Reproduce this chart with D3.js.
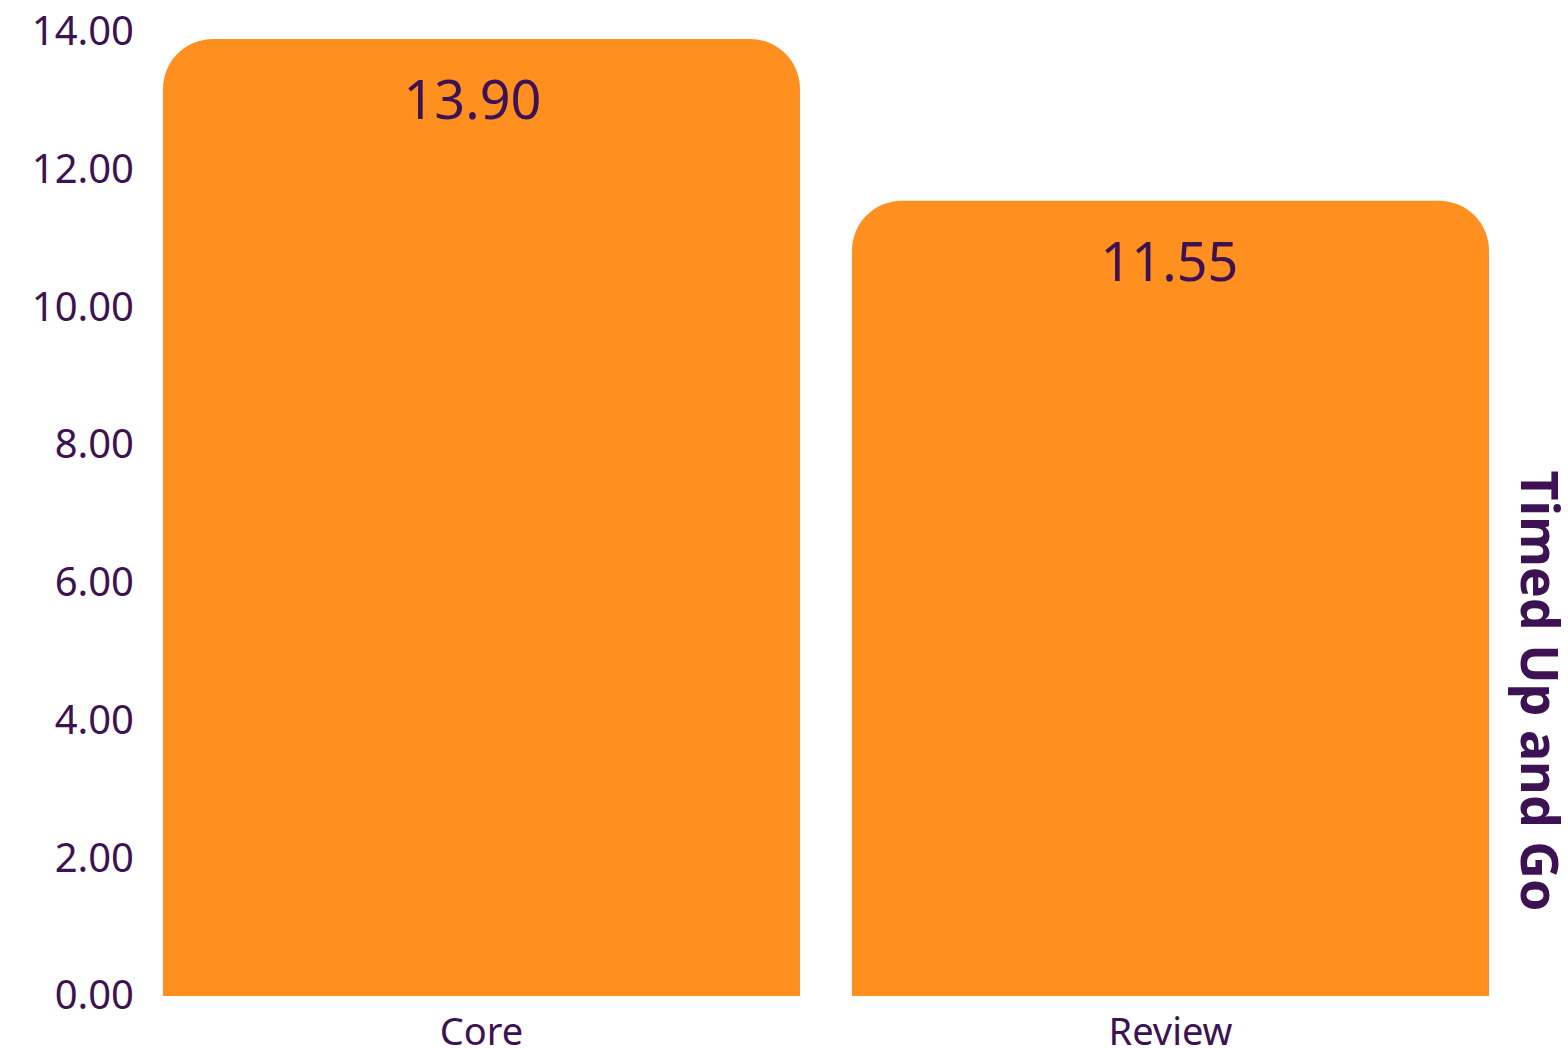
<!DOCTYPE html>
<html>
<head>
<meta charset="utf-8">
<script src="https://cdn.jsdelivr.net/npm/d3@7"></script>
<style>
  html, body { margin: 0; padding: 0; background: #ffffff; }
  svg { display: block; }
  text { font-family: "Noto Sans", "Open Sans", sans-serif; }
</style>
</head>
<body>
<svg id="chart" width="1568" height="1048"></svg>
<script>
const categories = ["Core", "Review"];
const values = [13.90, 11.55];
const yTicks = [0, 2, 4, 6, 8, 10, 12, 14];
const yTitle = "Timed Up and Go";

const W = 1568, H = 1048;
const margin = { left: 163, right: 79, top: 32, bottom: 52 };
const ink = "#3d1252";
const barColor = "#ff8f1f";

const svg = d3.select("#chart");

const x = d3.scaleBand()
  .domain(categories)
  .range([margin.left, W - margin.right])
  .paddingInner(0.0755)
  .paddingOuter(0);

const y = d3.scaleLinear()
  .domain([0, 14])
  .range([H - margin.bottom, margin.top]);

function topRounded(x0, y0, w, h, r) {
  r = Math.min(r, w / 2, h);
  return `M${x0},${y0 + h}` +
    `V${y0 + r}` +
    `A${r},${r} 0 0 1 ${x0 + r},${y0}` +
    `H${x0 + w - r}` +
    `A${r},${r} 0 0 1 ${x0 + w},${y0 + r}` +
    `V${y0 + h}Z`;
}

const data = categories.map((c, i) => ({ c, v: values[i] }));

svg.append("g").selectAll("path")
  .data(data)
  .join("path")
  .attr("fill", barColor)
  .attr("d", d => topRounded(x(d.c), y(d.v), x.bandwidth(), y(0) - y(d.v), 50));

svg.append("g").selectAll("text")
  .data(data)
  .join("text")
  .attr("x", (d, i) => x(d.c) + x.bandwidth() / 2 - (i === 0 ? 9 : 1))
  .attr("y", d => y(d.v) + 80)
  .attr("text-anchor", "middle")
  .attr("fill", ink)
  .attr("font-size", 54)
  .text(d => d3.format(".2f")(d.v));

// Y axis (labels only)
const yAxis = d3.axisLeft(y)
  .tickValues(yTicks)
  .tickFormat(d3.format(".2f"))
  .tickSize(0)
  .tickPadding(0);
const gy = svg.append("g")
  .attr("transform", `translate(134,0)`)
  .call(yAxis);
gy.select(".domain").remove();
gy.selectAll("text")
  .attr("fill", ink)
  .attr("font-size", 40)
  .attr("font-family", "\"Noto Sans\", sans-serif");

// X axis (labels only)
const xAxis = d3.axisBottom(x).tickSize(0).tickPadding(0);
const gx = svg.append("g")
  .attr("transform", `translate(0,${H - margin.bottom})`)
  .call(xAxis);
gx.select(".domain").remove();
gx.selectAll("text")
  .attr("dy", null)
  .attr("y", 49)
  .attr("fill", ink)
  .attr("font-size", 38)
  .attr("font-family", "\"Noto Sans\", sans-serif");

// Title on the right
svg.append("text")
  .attr("transform", `translate(1521,691) rotate(90)`)
  .attr("text-anchor", "middle")
  .attr("fill", ink)
  .attr("font-weight", "bold")
  .attr("font-size", 52)
  .text(yTitle);
</script>
</body>
</html>
